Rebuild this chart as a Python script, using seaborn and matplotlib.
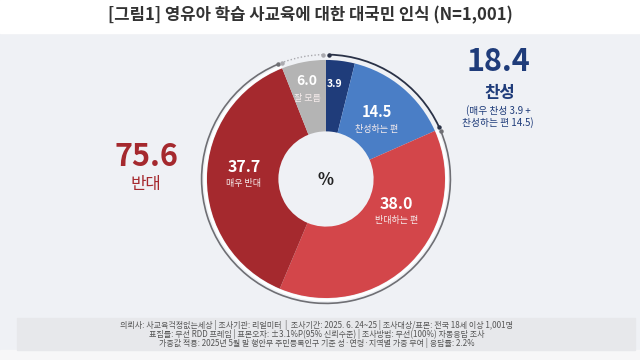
import numpy as np
import matplotlib.pyplot as plt
import seaborn as sns
from matplotlib.patches import Arc, Rectangle

# Survey data (%)
categories = ['매우 찬성', '찬성하는 편', '반대하는 편', '매우 반대', '잘 모름']
values = [3.9, 14.5, 38.0, 37.7, 6.0]
support_total = 18.4
oppose_total = 75.6

title = '[그림1] 영유아 학습 사교육에 대한 대국민 인식 (N=1,001)'
footer_lines = [
    '의뢰사: 사교육걱정없는세상 | 조사기관: 리얼미터  |  조사기간: 2025. 6. 24~25 | 조사대상/표본: 전국 18세 이상 1,001명',
    '표집틀: 무선 RDD 프레임 | 표본오차: ±3.1%P(95% 신뢰수준) | 조사방법: 무선(100%) 자동응답 조사',
    '가중값 적용: 2025년 5월 말 행안부 주민등록인구 기준 성·연령·지역별 가중 부여 | 응답률: 2.2%',
]

sns.set_theme(style='white')
plt.rcParams['font.family'] = ['Noto Sans CJK KR', 'DejaVu Sans']

colors = ['#1f3c7a', '#4a7ec6', '#d3464a', '#a5292e', '#b4b4b4']
navy = '#1f3c7a'
dark_red = '#a5292e'

fig = plt.figure(figsize=(6.4, 3.6), dpi=100)
fig.patch.set_facecolor('#eff1f5')

# background bands
fig.patches.append(Rectangle((0, 1 - 33 / 360), 1, 33 / 360, transform=fig.transFigure,
                             color='white', zorder=0))
fig.patches.append(Rectangle((0, 0), 1, 10 / 360, transform=fig.transFigure,
                             color='#f7f7f8', zorder=0))
fig.patches.append(Rectangle((17 / 640, 10 / 360), 618 / 640, 32 / 360, transform=fig.transFigure,
                             color='#e7e8eb', zorder=0))

fig.text(310 / 640, 1 - 15 / 360, title, ha='center', va='center', fontsize=12,
         fontweight='bold', color='#333333')

for i, line in enumerate(footer_lines):
    fig.text(0.495, 1 - (325 + i * 8.8) / 360, line, ha='center', va='center',
             fontsize=5.8, color='#555555')

# donut axes: 300x300 px, centred on (326, 179)
ax = fig.add_axes([(326 - 150) / 640, (360 - 179 - 150) / 360, 300 / 640, 300 / 360])
ax.set_facecolor('none')
ax.pie(values, colors=colors, startangle=90, counterclock=False, radius=1.0,
       wedgeprops=dict(width=0.6, edgecolor='none'))
ax.set_xlim(-1.26, 1.26)
ax.set_ylim(-1.26, 1.26)
ax.set_aspect('equal')
ax.axis('off')

# outer ring arcs
total = sum(values)
deg = 360.0 / total
blue_end = 90 - support_total * deg
red_end = blue_end - (values[2] + values[3]) * deg
ax.add_patch(Arc((0, 0), 2.03, 2.03, theta1=red_end + 360, theta2=blue_end + 360,
                 color='white', lw=1.8))
R = 1.045
ax.add_patch(Arc((0, 0), 2 * R, 2 * R, theta1=blue_end + 1, theta2=88.5, color='#2a3247', lw=1.3))
ax.add_patch(Arc((0, 0), 2 * R, 2 * R, theta1=red_end + 360 + 1, theta2=blue_end + 359,
                 color='#6f6f74', lw=1.2))
ax.add_patch(Arc((0, 0), 2 * R, 2 * R, theta1=91.5, theta2=red_end + 359,
                 color='#a9a9ae', lw=1.0, linestyle=(0, (1, 1.5))))
for a, c in [(88.5, '#2a3247'), (blue_end + 1, '#2a3247'),
             (blue_end - 1, '#6f6f74'), (red_end + 1, '#6f6f74'),
             (91.5, '#a9a9ae'), (red_end - 1, '#a9a9ae')]:
    t = np.deg2rad(a)
    ax.plot(R * np.cos(t), R * np.sin(t), 'o', ms=2.2, color=c)

# slice labels
num_pos = [(0.075, 0.80), (0.425, 0.56), (0.59, -0.21), (-0.69, 0.10), (-0.16, 0.82)]
num_size = [7.5, 10.5, 11.5, 11.5, 10]
sub_text = [None, '찬성하는 편', '반대하는 편', '매우 반대', '잘 모름']
for v, (x, y), fs, st in zip(values, num_pos, num_size, sub_text):
    ax.text(x, y, f'{v:.1f}', ha='center', va='center', fontsize=fs,
            fontweight='bold', color='white')
    if st:
        ax.text(x, y - 0.14, st, ha='center', va='center', fontsize=6.5, color='#f6ecec')
ax.text(0, -0.01, '%', ha='center', va='center', fontsize=12, fontweight='bold', color='#222222')

# side summaries
fig.text(146 / 640, 1 - 157 / 360, f'{oppose_total:.1f}', ha='center', va='center',
         fontsize=22, fontweight='bold', color=dark_red)
fig.text(146 / 640, 1 - 185 / 360, '반대', ha='center', va='center', fontsize=12,
         color=dark_red)
fig.text(498 / 640, 1 - 62 / 360, f'{support_total:.1f}', ha='center', va='center',
         fontsize=22, fontweight='bold', color=navy)
fig.text(500 / 640, 1 - 93 / 360, '찬성', ha='center', va='center', fontsize=12,
         fontweight='bold', color=navy)
fig.text(498 / 640, 1 - 111 / 360, f'(매우 찬성 {values[0]} +', ha='center', va='center',
         fontsize=7, color=navy)
fig.text(498 / 640, 1 - 123 / 360, f'찬성하는 편 {values[1]})', ha='center', va='center',
         fontsize=7, color=navy)

fig.savefig('out.png', dpi=100, facecolor=fig.get_facecolor())
